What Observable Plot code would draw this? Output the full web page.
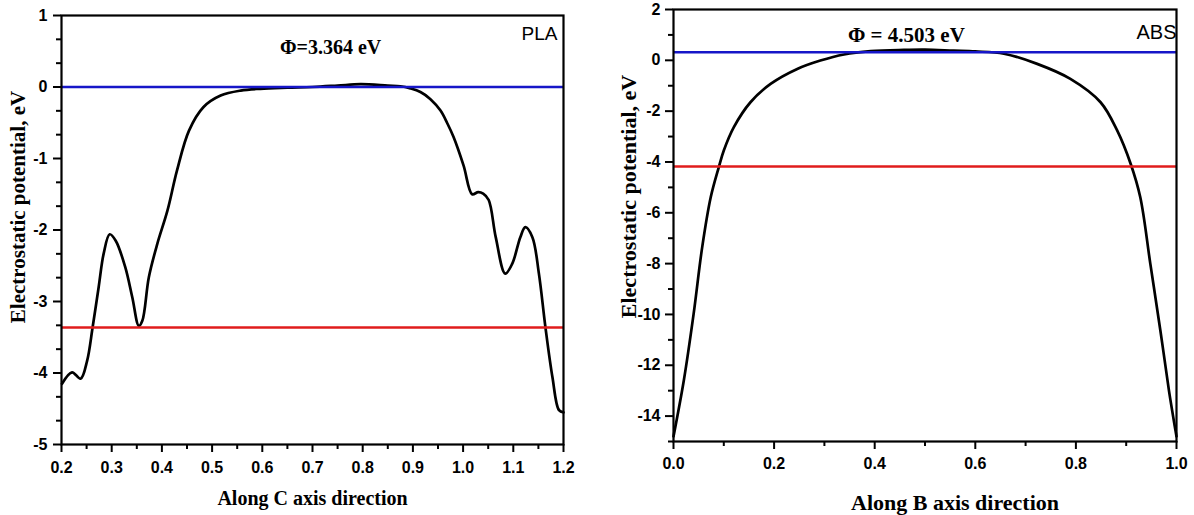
<!DOCTYPE html>
<html>
<head>
<meta charset="utf-8">
<script src="https://cdn.jsdelivr.net/npm/d3@7"></script>
<script src="https://cdn.jsdelivr.net/npm/@observablehq/plot@0.6"></script>
<style>
  html, body { margin: 0; padding: 0; background: #fff; }
  #wrap { position: relative; width: 1194px; height: 515px; overflow: hidden; background: #fff; }
  #wrap svg { position: absolute; top: 0; }
  #wrap svg g[aria-label$="tick label"] text { font-family: 'Liberation Sans', Arial, sans-serif !important; font-weight: bold !important; font-size: 16px !important; }
</style>
</head>
<body>
<div id="wrap"></div>
<script>
// ---------- PLA panel (Along C axis) ----------
const plaX = [0.201,0.221,0.238,0.251,0.262,0.274,0.284,0.296,0.308,0.327,0.341,0.354,0.361,0.374,0.391,0.411,0.430,0.454,0.483,0.517,0.557,0.596,0.650,0.700,0.750,0.796,0.850,0.875,0.895,0.915,0.935,0.955,0.968,0.981,1.001,1.018,1.030,1.040,1.051,1.065,1.084,1.098,1.114,1.124,1.138,1.151,1.164,1.178,1.191,1.200];
const plaY = [-4.15,-3.99,-4.08,-3.83,-3.36,-2.80,-2.33,-2.06,-2.15,-2.52,-2.94,-3.34,-3.27,-2.66,-2.19,-1.73,-1.17,-0.61,-0.28,-0.12,-0.05,-0.025,-0.01,0.00,0.02,0.04,0.02,0.01,-0.02,-0.07,-0.17,-0.33,-0.50,-0.70,-1.10,-1.50,-1.47,-1.49,-1.58,-2.10,-2.61,-2.47,-2.10,-1.96,-2.10,-2.61,-3.36,-4.06,-4.52,-4.55];
const plaVacuum = 0.0;
const plaFermi = -3.364;
const plaXTicks = [0.2,0.3,0.4,0.5,0.6,0.7,0.8,0.9,1.0,1.1,1.2];
const plaXMinor = [0.25,0.35,0.45,0.55,0.65,0.75,0.85,0.95,1.05,1.15];
const plaYTicks = [-5,-4,-3,-2,-1,0,1];
const plaYMinor = [-14/3,-13/3,-11/3,-10/3,-8/3,-7/3,-5/3,-4/3,-2/3,-1/3,1/3,2/3];

// ---------- ABS panel (Along B axis) ----------
const absX = [0.000,0.0205,0.040,0.057,0.074,0.090,0.100,0.120,0.153,0.193,0.246,0.292,0.339,0.392,0.458,0.500,0.557,0.600,0.657,0.723,0.789,0.849,0.882,0.909,0.928,0.948,0.968,0.985,0.998,1.000];
const absY = [-14.8,-12.6,-9.98,-7.36,-5.39,-4.21,-3.55,-2.63,-1.65,-0.93,-0.34,-0.01,0.23,0.36,0.41,0.42,0.38,0.35,0.26,-0.14,-0.73,-1.65,-2.76,-4.08,-5.39,-8.01,-10.64,-13.0,-14.57,-14.8];
const absVacuum = 0.32;
const absFermi = -4.183;
const absXTicks = [0,0.2,0.4,0.6,0.8,1.0];
const absXMinor = [0.1,0.3,0.5,0.7,0.9];
const absYTicks = [-14,-12,-10,-8,-6,-4,-2,0,2];
const absYMinor = [-15,-13,-11,-9,-7,-5,-3,-1,1];

const plaTitle = "Φ=3.364 eV";
const absTitle = "Φ = 4.503 eV";
const yLabel = "Electrostatic potential, eV";

const BLUE = "#1616c8";
const RED = "#e01c1c";
const serif = "'Liberation Serif', 'Times New Roman', serif";
const sans = "'Liberation Sans', Arial, sans-serif";

function panel(cfg) {
  const data = cfg.xs.map((x, i) => ({x, y: cfg.ys[i]}));
  const svg = Plot.plot({
    width: cfg.width, height: 515,
    marginLeft: cfg.ml, marginRight: cfg.mr, marginTop: cfg.mt, marginBottom: cfg.mb,
    style: {fontFamily: sans, fontSize: "16px", fontWeight: "bold", background: "transparent", color: "#000", overflow: "visible"},
    x: {domain: cfg.xDomain, axis: null},
    y: {domain: cfg.yDomain, axis: null},
    marks: [
      Plot.line(data, {x: "x", y: "y", stroke: "#000", strokeWidth: 2.7, curve: "catmull-rom"}),
      Plot.ruleY([cfg.vac], {stroke: BLUE, strokeWidth: 2.5}),
      Plot.ruleY([cfg.fermi], {stroke: RED, strokeWidth: 2.5}),
      Plot.frame({stroke: "#000", strokeWidth: 2.2}),
      Plot.axisX(cfg.xTicks, {anchor: "bottom", tickSize: 8, tickPadding: cfg.xPad, strokeWidth: 2, tickFormat: d => d.toFixed(1), label: null, fontSize: 16, fontWeight: "bold"}),
      Plot.axisX(cfg.xMinor, {anchor: "bottom", tickSize: 5, strokeWidth: 2, tickFormat: () => "", label: null}),
      Plot.axisY(cfg.yTicks, {anchor: "left", tickSize: 8, tickPadding: cfg.yPad, strokeWidth: 2, tickFormat: d => String(d), label: null, fontSize: 16, fontWeight: "bold"}),
      Plot.axisY(cfg.yMinor, {anchor: "left", tickSize: 5, strokeWidth: 2, tickFormat: () => "", label: null}),
      Plot.text([cfg.phi], {x: cfg.phiX, y: cfg.phiY, text: d => d, fontFamily: serif, fontWeight: "bold", fontSize: cfg.phiSize, fill: "#000", textAnchor: "middle", lineAnchor: "middle"}),
      Plot.text([cfg.tag], {frameAnchor: "top-right", dx: cfg.tagDx, dy: cfg.tagDy, text: d => d, fontFamily: sans, fontWeight: "normal", fontSize: cfg.tagSize, fill: "#000", textAnchor: "end", lineAnchor: "middle"}),
      Plot.text([cfg.xLabel], {frameAnchor: "bottom", dx: cfg.xlDx, dy: cfg.xlDy, text: d => d, fontFamily: serif, fontWeight: "bold", fontSize: cfg.xlSize, fill: "#000", textAnchor: "middle", lineAnchor: "middle"}),
      Plot.text([yLabel], {frameAnchor: "left", dx: cfg.ylDx, dy: cfg.ylDy, rotate: -90, text: d => d, fontFamily: serif, fontWeight: "bold", fontSize: cfg.ylSize, fill: "#000", textAnchor: "middle", lineAnchor: "middle"})
    ]
  });
  svg.style.left = cfg.left + "px";
  return svg;
}

const wrap = document.getElementById("wrap");
wrap.appendChild(panel({
  left: 0, width: 600, ml: 61, mr: 37, mt: 15, mb: 71,
  xs: plaX, ys: plaY, vac: plaVacuum, fermi: plaFermi,
  xDomain: [0.2, 1.2], yDomain: [-5, 1],
  xTicks: plaXTicks, xMinor: plaXMinor, yTicks: plaYTicks, yMinor: plaYMinor,
  xPad: 9, yPad: 6,
  phi: plaTitle, phiX: 0.736, phiY: 0.55, phiSize: 20,
  tag: "PLA", tagDx: -6, tagDy: 18, tagSize: 19,
  xLabel: "Along C axis direction", xlDx: 0, xlDy: 54, xlSize: 20,
  ylDx: -43, ylDy: -23, ylSize: 21
}));
wrap.appendChild(panel({
  left: 600, width: 594, ml: 73, mr: 18, mt: 9, mb: 74,
  xs: absX, ys: absY, vac: absVacuum, fermi: absFermi,
  xDomain: [0, 1], yDomain: [-15, 2],
  xTicks: absXTicks, xMinor: absXMinor, yTicks: absYTicks, yMinor: absYMinor,
  xPad: 8, yPad: 5,
  phi: absTitle, phiX: 0.463, phiY: 0.98, phiSize: 21,
  tag: "ABS", tagDx: 0, tagDy: 23, tagSize: 20,
  xLabel: "Along B axis direction", xlDx: 30, xlDy: 61, xlSize: 22,
  ylDx: -45, ylDy: -29, ylSize: 22
}));
</script>
</body>
</html>
